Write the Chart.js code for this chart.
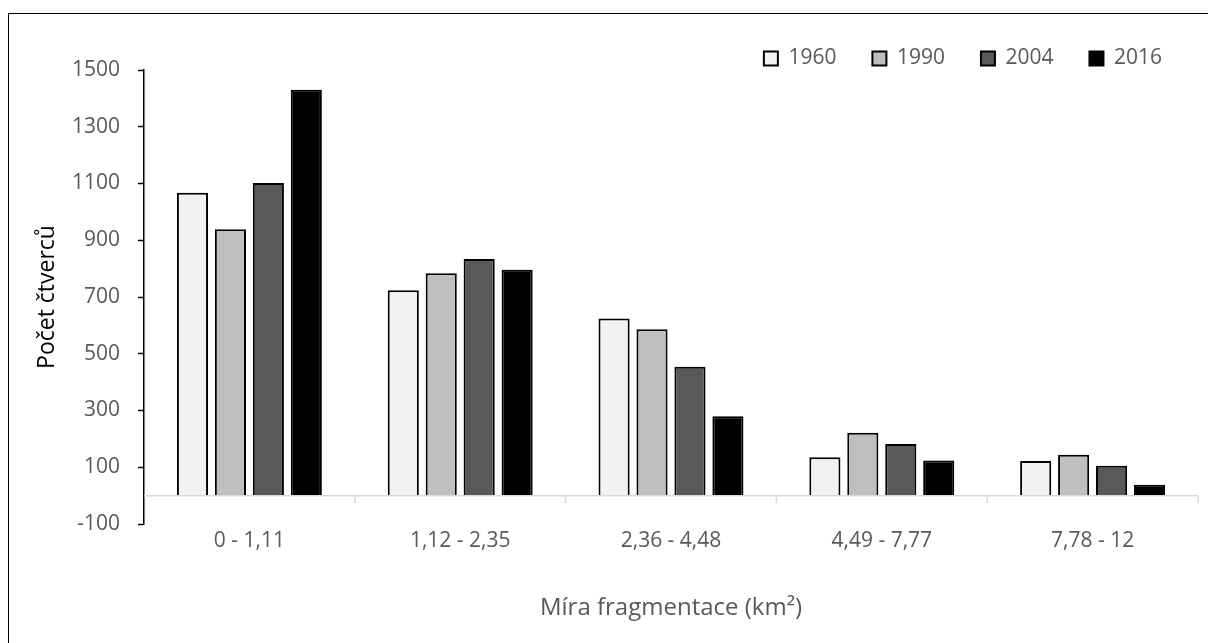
<!DOCTYPE html>
<html lang="cs">
<head>
<meta charset="utf-8">
<title>Míra fragmentace</title>
<script src="https://cdn.jsdelivr.net/npm/chart.js@4.4.1/dist/chart.umd.min.js"></script>
<style>
    html, body { margin: 0; padding: 0; background: #fff; overflow: hidden; }
    #frame {
        position: absolute; left: 8px; top: 13px;
        width: 1400px; height: 800px;
        border: 1.5px solid #000;
    }
    #wrap { position: absolute; left: 0; top: 0; width: 1208px; height: 643px; }
</style>
</head>
<body>
<div id="frame"></div>
<div id="wrap"><canvas id="chart"></canvas></div>
<script>
// categories and values
const categories = ['0 - 1,11', '1,12 - 2,35', '2,36 - 4,48', '4,49 - 7,77', '7,78 - 12'];
const years = ['1960', '1990', '2004', '2016'];
const values1960 = [1067, 724, 624, 135, 122];
const values1990 = [939, 784, 586, 222, 144];
const values2004 = [1102, 834, 454, 182, 105];
const values2016 = [1430, 796, 280, 124, 38];
const yTicks = [-100, 100, 300, 500, 700, 900, 1100, 1300, 1500];

const fills = ['#f2f2f2', '#bfbfbf', '#595959', '#000000'];
const textGrey = '#595959';

Chart.defaults.font.family = "'Open Sans', sans-serif";
Chart.defaults.color = textGrey;

// zero line + category divider ticks (the Excel style category axis)
const zeroAxis = {
    id: 'zeroAxis',
    afterDatasetsDraw(chart) {
        const {ctx, chartArea, scales: {x, y}} = chart;
        const y0 = y.getPixelForValue(0);
        const half = (x.getPixelForTick(1) - x.getPixelForTick(0)) / 2;
        ctx.save();
        ctx.strokeStyle = '#d9d9d9';
        ctx.lineWidth = 1.5;
        ctx.beginPath();
        ctx.moveTo(chartArea.left, y0);
        ctx.lineTo(chartArea.right, y0);
        for (let i = 1; i <= categories.length; i++) {
            const px = x.getPixelForTick(i - 1) + half;
            ctx.moveTo(px, y0);
            ctx.lineTo(px, y0 + 7);
        }
        ctx.stroke();
        ctx.restore();
    }
};

const seriesValues = [values1960, values1990, values2004, values2016];

new Chart(document.getElementById('chart'), {
    type: 'bar',
    data: {
        labels: categories,
        datasets: years.map((yr, i) => ({
            label: yr,
            data: seriesValues[i],
            backgroundColor: fills[i],
            borderColor: '#000',
            borderWidth: 2,
            categoryPercentage: 0.72,
            barPercentage: 0.82
        }))
    },
    options: {
        responsive: true,
        maintainAspectRatio: false,
        animation: false,
        layout: { padding: { top: 12, right: 10, bottom: 0, left: 0 } },
        plugins: {
            legend: {
                position: 'top',
                align: 'end',
                maxHeight: 58,
                labels: {
                    boxWidth: 14,
                    boxHeight: 14,
                    padding: 36,
                    color: textGrey,
                    font: { size: 21 }
                }
            },
            tooltip: { enabled: false }
        },
        scales: {
            x: {
                grid: { display: false, drawTicks: false },
                border: { display: false },
                ticks: { padding: 4, font: { size: 21 }, color: textGrey },
                title: {
                    display: true,
                    text: 'Míra fragmentace (km²)',
                    color: textGrey,
                    font: { size: 24 },
                    padding: { top: 37, bottom: 20 }
                }
            },
            y: {
                min: -100,
                max: 1500,
                afterBuildTicks(scale) {
                    scale.ticks = yTicks.map(v => ({ value: v }));
                },
                afterFit(scale) { scale.width = 144; },
                grid: {
                    drawOnChartArea: false,
                    color: '#000',
                    tickLength: 6,
                    tickWidth: 1.5
                },
                border: { color: '#000', width: 1.5 },
                ticks: {
                    padding: 18,
                    font: { size: 21 },
                    color: textGrey,
                    callback: v => String(v)
                },
                title: {
                    display: true,
                    text: 'Počet čtverců',
                    color: '#000',
                    font: { size: 23 },
                    padding: { top: 34, bottom: 0 }
                }
            }
        }
    },
    plugins: [zeroAxis]
});
</script>
</body>
</html>
